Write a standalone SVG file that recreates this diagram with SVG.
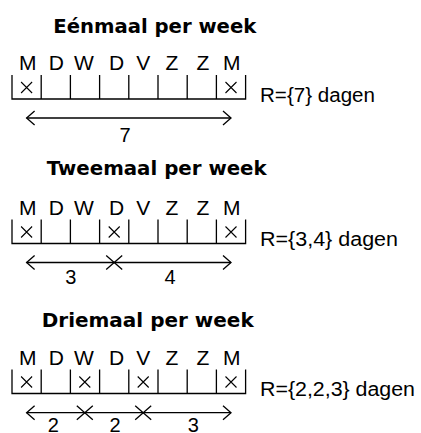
<svg xmlns="http://www.w3.org/2000/svg" width="421" height="433" viewBox="0 0 421 433">
<style>
.title{font-family:"DejaVu Sans",sans-serif;font-weight:bold;font-size:20px;fill:#000}
.day{font-family:"Liberation Sans",Arial,sans-serif;font-size:21px;fill:#000;text-anchor:middle}
.r{font-family:"Liberation Sans",Arial,sans-serif;font-size:20px;fill:#000}
.num{font-family:"Liberation Sans",Arial,sans-serif;font-size:20px;fill:#000;text-anchor:middle}
.grid{stroke:#000;stroke-width:1.3;fill:none}
.x{stroke:#000;stroke-width:1.1;fill:none}
.arrow{stroke:#000;stroke-width:1.3;fill:none;marker-start:url(#head);marker-end:url(#head)}
</style>
<defs>
<marker id="head" markerUnits="userSpaceOnUse" viewBox="-10 -10 20 20" refX="0" refY="0" markerWidth="20" markerHeight="20" orient="auto-start-reverse" overflow="visible">
<path d="M-8,-7 L0,0 L-8,7" fill="none" stroke="#000" stroke-width="1.3"/>
</marker>
<g id="days">
<text class="day" x="27.7">M</text>
<text class="day" x="56.3">D</text>
<text class="day" x="84">W</text>
<text class="day" x="116.5">D</text>
<text class="day" x="143.3">V</text>
<text class="day" x="172">Z</text>
<text class="day" x="203">Z</text>
<text class="day" x="231.7">M</text>
</g>
<path id="scale" class="grid" d="M12,-24V0H245.6V-24M41.2,-24V0M70.4,-24V0M99.6,-24V0M128.8,-24V0M158,-24V0M187.2,-24V0M216.4,-24V0"/>
<path id="cross" class="x" d="M-5.5,-5.5L5.5,5.5M-5.5,5.5L5.5,-5.5"/>
</defs>

<g id="section1">
<text class="title" x="53.3" y="33.3" textLength="203" lengthAdjust="spacingAndGlyphs">Eénmaal per week</text>
<use href="#days" y="70"/>
<g id="week1" transform="translate(0,99)">
<use href="#scale"/>
<use href="#cross" x="26.6" y="-11.5"/>
<use href="#cross" x="231" y="-11.5"/>
</g>
<text class="r" x="260" y="101.5" textLength="115" lengthAdjust="spacingAndGlyphs">R={7} dagen</text>
<text class="num" x="125" y="142">7</text>
</g>

<g id="section2">
<text class="title" x="46.7" y="175" textLength="220" lengthAdjust="spacingAndGlyphs">Tweemaal per week</text>
<use href="#days" y="215"/>
<g id="week2" transform="translate(0,243.5)">
<use href="#scale"/>
<use href="#cross" x="26.6" y="-11.5"/>
<use href="#cross" x="114.2" y="-11.5"/>
<use href="#cross" x="231" y="-11.5"/>
</g>
<text class="r" x="260" y="246" textLength="138" lengthAdjust="spacingAndGlyphs">R={3,4} dagen</text>
<text class="num" x="70.7" y="284">3</text>
<text class="num" x="170" y="284">4</text>
</g>

<g id="section3">
<text class="title" x="41.7" y="326.7" textLength="212" lengthAdjust="spacingAndGlyphs">Driemaal per week</text>
<use href="#days" y="365"/>
<g id="week3" transform="translate(0,393.5)">
<use href="#scale"/>
<use href="#cross" x="26.6" y="-11.5"/>
<use href="#cross" x="84.8" y="-11.5"/>
<use href="#cross" x="143.2" y="-11.5"/>
<use href="#cross" x="231" y="-11.5"/>
</g>
<text class="r" x="260" y="396" textLength="155" lengthAdjust="spacingAndGlyphs">R={2,2,3} dagen</text>
<text class="num" x="53.3" y="431.5">2</text>
<text class="num" x="115" y="431.5">2</text>
<text class="num" x="193.3" y="431.5">3</text>
</g>

<g id="connectors">
<line class="arrow" x1="26.6" y1="118" x2="231" y2="118"/>
<line class="arrow" x1="26.6" y1="262.5" x2="114.2" y2="262.5"/>
<line class="arrow" x1="114.2" y1="262.5" x2="231" y2="262.5"/>
<line class="arrow" x1="26.6" y1="412.7" x2="84.8" y2="412.7"/>
<line class="arrow" x1="84.8" y1="412.7" x2="143.2" y2="412.7"/>
<line class="arrow" x1="143.2" y1="412.7" x2="231" y2="412.7"/>
</g>
</svg>
